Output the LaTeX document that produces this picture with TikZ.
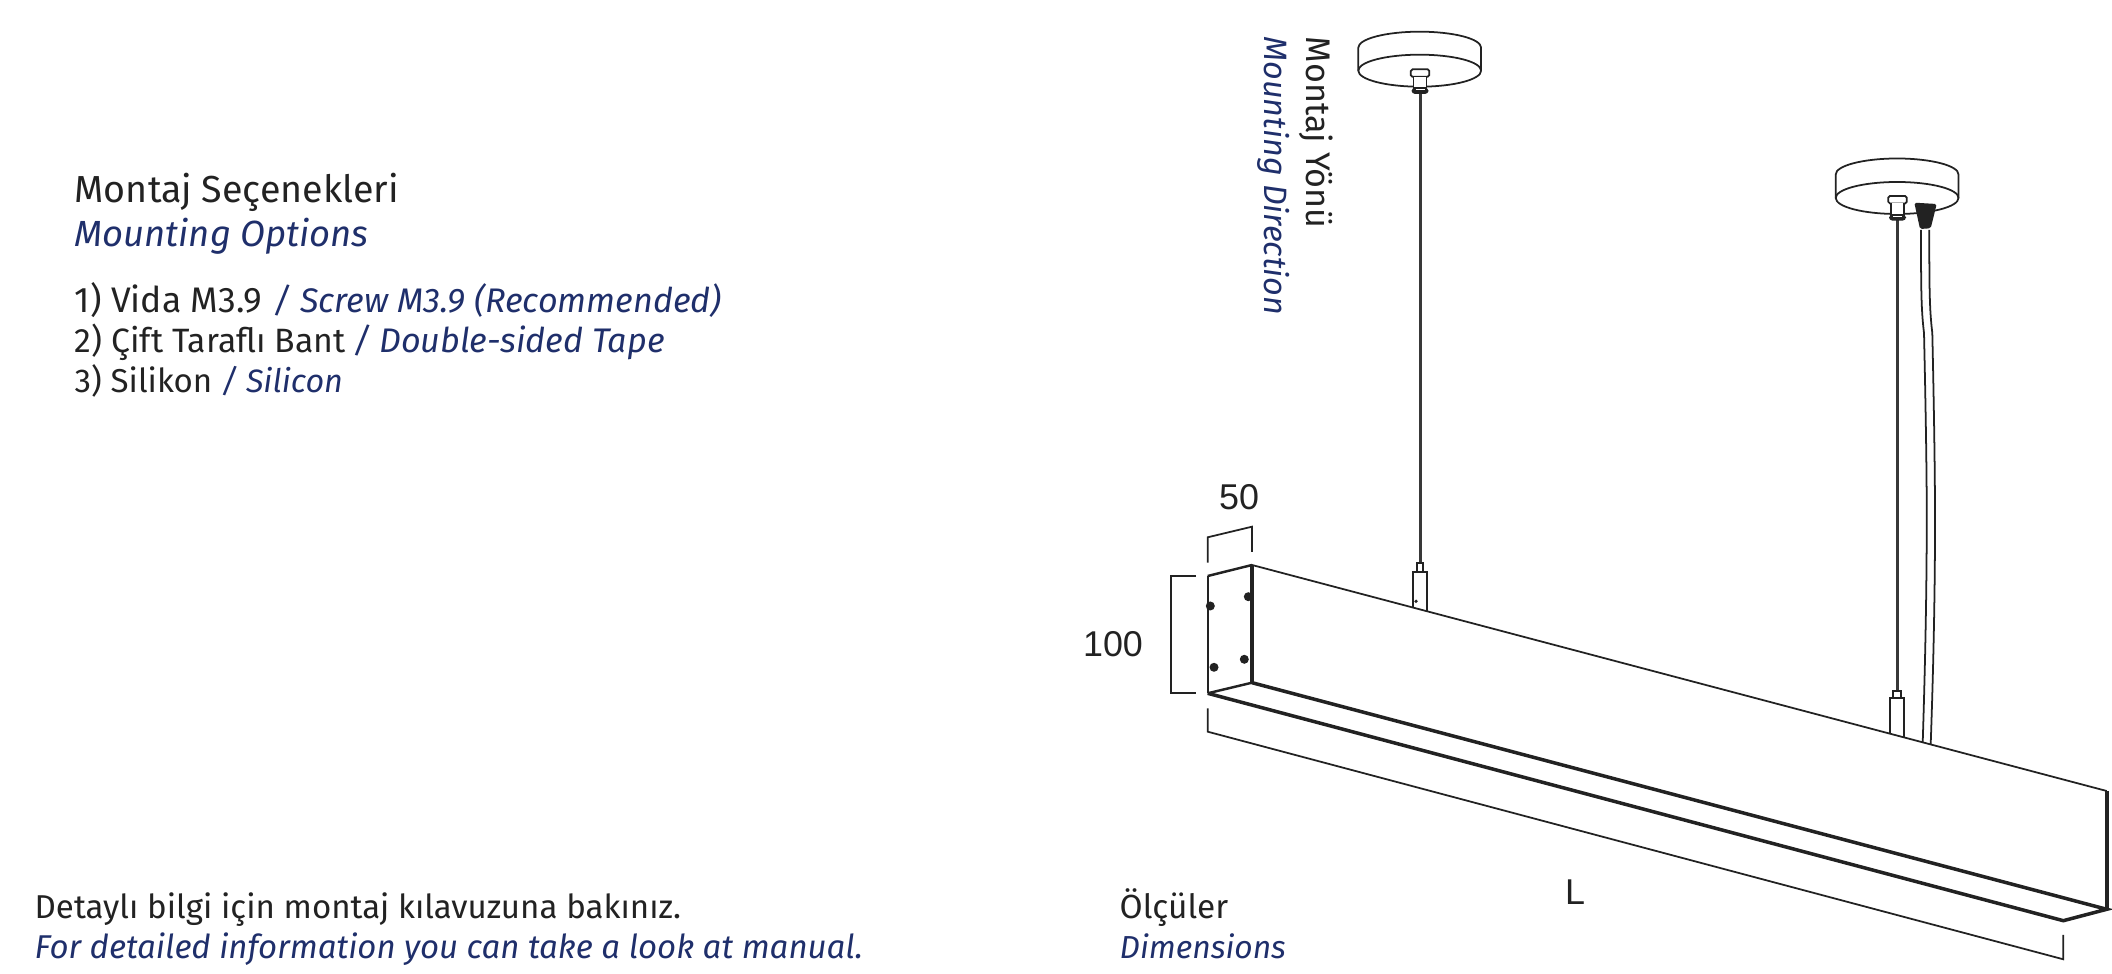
\documentclass[tikz,border=0pt]{standalone}
\usepackage{fontspec}
\setmainfont{Fira Sans}
\newfontfamily\dimfont{Liberation Sans}
\definecolor{navy}{HTML}{1F2F6B}
\definecolor{ink}{HTML}{222222}
\newcommand{\pts}[1]{\fontsize{#1pt}{12pt}\selectfont}
\begin{document}
\begin{tikzpicture}
[x=0.01cm,y=-0.01cm,
every node/.style={inner sep=0pt,text=ink},
txt/.style={anchor=base west},
tr/.style={anchor=base west,text=navy},
size/.style={font=\dimfont\pts{10.2},anchor=center},
thin line/.style={draw=ink,line width=0.5pt},
bold line/.style={draw=ink,line width=1pt},
wire/.style={draw=ink!90,line width=0.85pt},
rose/.style={draw=ink,fill=white,line width=0.5pt},
hole/.style={fill=ink,circle,minimum size=0.09cm}]
	\useasboundingbox (0,0) rectangle (2112,974);
	% texts on the left
	\node[txt,font=\pts{10.7}] (title) at (74,203) {Montaj Seçenekleri};
	\node[tr,font=\pts{10.35}\itshape] (titleen) at (74,247) {Mounting Options};
	\node[txt,font=\pts{10.1}] (one) at (74,313) {1) Vida M3.9\hspace{0.6pt} \textcolor{navy}{\pts{9.7}\itshape / Screw M3.9 (Recommended)}};
	\node[txt,font=\pts{9.6}] (two) at (74,353) {2) Çift Taraflı Bant\hspace{-0.5pt} \textcolor{navy}{\pts{9.7}\itshape / Double-sided Tape}};
	\node[txt,font=\pts{9.4}] (three) at (74,393) {3) Silikon \textcolor{navy}{\pts{9.2}\itshape / Silicon}};
	\node[txt,font=\pts{9.4}] (more) at (34,919) {Detaylı bilgi için montaj kılavuzuna bakınız.};
	\node[tr,font=\pts{9.38}\itshape] (moreen) at (34,959) {For detailed information you can take a look at manual.};
	\node[txt,font=\pts{9.5}] (dims) at (1119,919) {Ölçüler};
	\node[tr,font=\pts{9.05}\itshape] (dimsen) at (1119,959) {Dimensions};
	\node[txt,font=\pts{9.7},rotate=-90] (dir) at (1306,36) {Montaj Yönü};
	\node[tr,font=\pts{9.2}\itshape,rotate=-90] (diren) at (1264,36) {Mounting Direction};
	% corners of the luminaire
	\coordinate (a) at (1207.7,576);
	\coordinate (b) at (1252,565);
	\coordinate (c) at (1252,682.7);
	\coordinate (d) at (1207.7,693.3);
	\coordinate (e) at (2106.7,791);
	\coordinate (f) at (2106.7,909.3);
	\coordinate (g) at (2063.3,920.7);
	% wires and ceiling roses
	\draw[wire] (1420,94) -- (1420,564);
	\draw[wire] (1897,220) -- (1897,691);
	\foreach \px/\py/\qy in {1358.3/47.7/70.7,1835.7/174.5/198}{
		\draw[rose] (\px,\py) arc[start angle=180,end angle=360,x radius=61.4,y radius=16] -- +(0,\qy-\py)
			arc[start angle=0,end angle=180,x radius=61.4,y radius=16] -- cycle;
		\draw[rose,fill=none] (\px,\qy) arc[start angle=180,end angle=360,x radius=61.4,y radius=16];
	}
	% fittings under the roses
	\foreach \px/\py in {1420/69.3,1897.5/196}{
		\draw[rose,rounded corners=0.5pt] (\px-9.3,\py+7.5) -- (\px-9.3,\py) -- (\px+9.3,\py) -- (\px+9.3,\py+7.5) -- cycle;
		\draw[rose] (\px-6.5,\py+7.5) -- (\px-6.5,\py+19) -- (\px+6.5,\py+19) -- (\px+6.5,\py+7.5);
		\fill[ink,rounded corners=1pt] (\px-8.5,\py+18.5) rectangle (\px+8.5,\py+24.7);
		\draw[white,line width=0.3pt] (\px-4.5,\py+20.5) -- (\px+4.5,\py+20.5);
	}
	\fill[ink,rounded corners=0.5pt] (1914.3,202.7) -- (1936.7,204) -- (1930.7,228.3) -- (1920,229) -- cycle;
	\draw[thin line] (1921,230) .. controls (1921,290) and (1921.2,310) .. (1924,333) .. controls (1925.5,400) and (1927,480) .. (1926.7,533) .. controls (1926.5,600) and (1925,670) .. (1922.7,742.7);
	\draw[thin line] (1929.3,230) .. controls (1929.3,290) and (1929.5,310) .. (1932.3,333) .. controls (1933.8,400) and (1935.2,480) .. (1935,533) .. controls (1934.8,600) and (1933.3,670) .. (1930.7,744);
	% adapters on top of the body
	\draw[rose] (1416.7,571.7) -- (1416.7,563.3) -- (1423.3,563.3) -- (1423.3,571.7);
	\draw[rose] (1412.7,607.7) -- (1412.7,571.7) -- (1426.7,571.7) -- (1426.7,611);
	\draw[rose] (1893.3,698.3) -- (1893.3,690.7) -- (1900.7,690.7) -- (1900.7,698.3);
	\draw[rose] (1890,734) -- (1890,698.3) -- (1903.7,698.3) -- (1903.7,737.5);
	\fill[ink] (1416,601.3) circle (1.8);
	% body of the luminaire
	\draw[thin line] (b) -- (e);
	\draw[bold line] (c) -- (f) -- (g) -- (d);
	\draw[draw=ink,line width=1.1pt] (e) -- (f);
	\draw[draw=ink,line width=1.1pt] (b) -- (c);
	\draw[draw=ink,line width=0.7pt] (a) -- (b);
	\draw[thin line] (a) -- (d);
	\draw[draw=ink,line width=0.7pt] (d) -- (c);
	\foreach \px/\py in {1210.3/606,1248.3/596.7,1214/667.3,1244.3/659.3}
		\node[hole] at (\px,\py) {};
	% dimensions
	\draw[thin line] (1196,575.7) -- (1170.7,575.7) -- (1170.7,693) -- (1196,693);
	\draw[thin line] (1207.7,562.7) -- (1207.7,537.3) -- (1252,526.7) -- (1252,552);
	\draw[thin line] (1207.7,708.3) -- (1207.7,731.7) -- (2063.3,959.3) -- (2063.3,935);
	\node[size] (fifty) at (1239,497) {50};
	\node[size] (hundred) at (1113,644) {100};
	\node[size] (len) at (1575,892) {L};
\end{tikzpicture}
\end{document}
